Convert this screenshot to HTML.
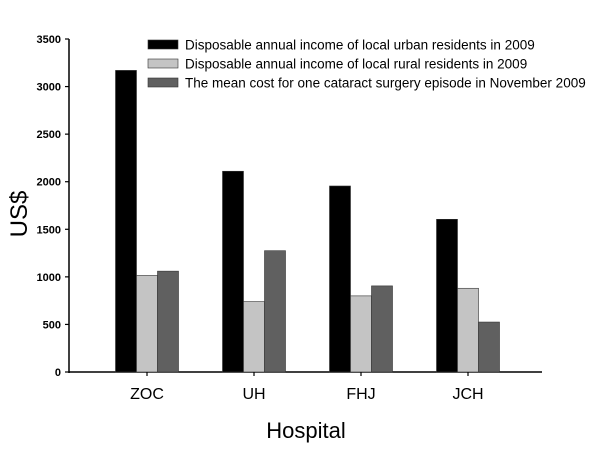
<!DOCTYPE html>
<html><head><meta charset="utf-8"><style>
html,body{margin:0;padding:0;background:#fff;}
svg text{font-family:"Liberation Sans",Arial,sans-serif;}
</style></head><body>
<svg id="chart" width="600" height="467"></svg>
<script>
const categories=["ZOC","UH","FHJ","JCH"];
const urbanIncome=[3170,2110,1955,1605];
const ruralIncome=[1015,740,800,880];
const surgeryCost=[1060,1275,905,525];
const yTicks=[0,500,1000,1500,2000,2500,3000,3500];
const seriesNames=["Disposable annual income of local urban residents in 2009","Disposable annual income of local rural residents in 2009","The mean cost for one cataract surgery episode in November 2009"];
const colors=["#000","#c4c4c4","#606060"];
const svg=document.getElementById('chart');
const NS="http://www.w3.org/2000/svg";
function mk(t,a,txt){const e=document.createElementNS(NS,t);for(const k in a)e.setAttribute(k,a[k]);if(txt!==undefined)e.textContent=txt;svg.appendChild(e);return e;}
const x0=69,x1=542,yB=372,yT=39,vMax=3500;
const y=v=>yB-(v/vMax)*(yB-yT);
const cx=i=>147+i*107;
const bw=21;
let e=mk('line',{x1:x0,y1:yT,x2:x0,y2:yB+1,stroke:'#000','stroke-width':1.5});


e=mk('line',{x1:x0,y1:yB,x2:x1,y2:yB,stroke:'#000','stroke-width':1.5});


yTicks.forEach(t=>{
  e=mk('line',{x1:x0-4,y1:y(t),x2:x0,y2:y(t),stroke:'#000','stroke-width':1.2});
  
  
  e=mk('text',{x:x0-8,y:y(t)+4,'text-anchor':'end','font-size':11,'font-weight':'bold'},t);
  
  
});
const series=[urbanIncome,ruralIncome,surgeryCost];
categories.forEach((c,i)=>{
  series.forEach((s,j)=>{
    const x=cx(i)-1.5*bw+j*bw;
    e=mk('rect',{x:x,y:y(s[i]),width:bw,height:yB-y(s[i]),fill:colors[j],stroke:'#333','stroke-width':0.6});
    
    
  });
  e=mk('line',{x1:cx(i),y1:yB,x2:cx(i),y2:yB+4,stroke:'#000','stroke-width':1.2});
  
  
  e=mk('text',{x:cx(i),y:399,'text-anchor':'middle','font-size':16},c);
  
  
});
e=mk('text',{x:306,y:438,'text-anchor':'middle','font-size':22},'Hospital');


e=mk('text',{x:0,y:0,'text-anchor':'middle','font-size':24,transform:'translate(27,214) rotate(-90)'},'US$');


seriesNames.forEach((n,j)=>{
  const ly=40+j*19;
  e=mk('rect',{x:148,y:ly,width:30,height:9,fill:colors[j],stroke:'#333','stroke-width':0.6});
  
  
  e=mk('text',{x:185,y:ly+9.5,'font-size':13.5},n);
  
  
});
</script>
</body></html>
